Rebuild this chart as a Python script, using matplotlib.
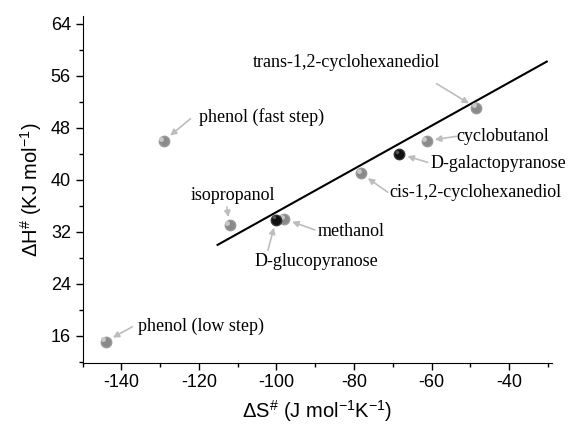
import numpy as np
import matplotlib.pyplot as plt
from matplotlib.ticker import MultipleLocator

plt.rcParams['axes.unicode_minus'] = False
plt.rcParams['mathtext.fontset'] = 'custom'
plt.rcParams['mathtext.rm'] = 'Liberation Sans'
plt.rcParams['mathtext.it'] = 'Liberation Sans'

# activation entropy / enthalpy for each compound
names = ['phenol (low step)', 'isopropanol', 'D-glucopyranose', 'methanol',
         'cis-1,2-cyclohexanediol', 'D-galactopyranose', 'cyclobutanol',
         'trans-1,2-cyclohexanediol', 'phenol (fast step)']
dS = [-144.1, -112.1, -100.1, -98.0, -78.2, -68.3, -61.3, -48.5, -129.1]
dH = [15.1, 33.0, 33.9, 34.0, 41.0, 44.0, 46.0, 51.1, 46.0]
sugar = [False, False, True, False, False, True, False, False, False]

# fitted compensation line
fit_x = [-115.2, -30.3]
fit_y = [30.0, 58.2]

# label text positions (data coords)
label_xy = {
    'phenol (low step)': (-135.7, 17.4),
    'isopropanol': (-111.3, 37.6),
    'D-glucopyranose': (-89.8, 27.5),
    'methanol': (-89.5, 32.0),
    'cis-1,2-cyclohexanediol': (-70.8, 38.0),
    'D-galactopyranose': (-60.3, 42.5),
    'cyclobutanol': (-53.6, 46.7),
    'trans-1,2-cyclohexanediol': (-81.9, 58.1),
    'phenol (fast step)': (-119.9, 49.6),
}
label_ha = {'isopropanol': 'center', 'D-glucopyranose': 'center',
            'trans-1,2-cyclohexanediol': 'center'}
arrow_start = {
    'phenol (low step)': (-137.2, 17.4),
    'isopropanol': (-112.8, 35.8),
    'D-glucopyranose': (-102.2, 29.2),
    'methanol': (-90.1, 32.3),
    'cis-1,2-cyclohexanediol': (-71.3, 38.1),
    'D-galactopyranose': (-61.0, 42.7),
    'cyclobutanol': (-53.6, 46.7),
    'trans-1,2-cyclohexanediol': (-58.7, 54.8),
    'phenol (fast step)': (-122.2, 49.4),
}

fig = plt.figure(figsize=(5.7, 4.24), dpi=100)
ax = fig.add_axes([0.145, 0.145, 0.823, 0.817])

ax.plot(fit_x, fit_y, color='black', lw=1.5, zorder=2)

for n, x, y, s in zip(names, dS, dH, sugar):
    if s:
        ax.plot(x, y, 'o', ms=7.5, color='#111111', mec='#333333', zorder=4)
        ax.plot(x - 0.6, y + 0.35, 'o', ms=2.5, color='#555555', mec='none', zorder=5)
    else:
        ax.plot(x, y, 'o', ms=7.5, color='#8a8a8a', mec='#9a9a9a', zorder=3)
        ax.plot(x - 0.6, y + 0.35, 'o', ms=3.5, color='#c8c8c8', mec='none', zorder=3)
    tx, ty = label_xy[n]
    ax.text(tx, ty, n, family='Liberation Serif', fontsize=13,
            ha=label_ha.get(n, 'left'), va='center', zorder=6)
    ax.annotate('', xy=(x, y), xytext=arrow_start[n],
                arrowprops=dict(arrowstyle='-|>', color='#bdbdbd', lw=1.2,
                                mutation_scale=9, shrinkB=6, shrinkA=0))

ax.set_xlim(-150, -29)
ax.set_ylim(11.9, 65.2)
ax.xaxis.set_minor_locator(MultipleLocator(10))
ax.yaxis.set_minor_locator(MultipleLocator(4))
ax.set_xticks(np.arange(-140, -39, 20))
ax.set_yticks(np.arange(16, 65, 8))

for sp in ['top', 'right']:
    ax.spines[sp].set_visible(False)
ax.tick_params(which='major', direction='out', length=5, width=1,
               labelsize=13, labelfontfamily='Liberation Sans')
ax.tick_params(which='minor', direction='out', length=3, width=1)

ax.set_xlabel(r'$\Delta$S$^{\#}$ (J mol$^{-1}$K$^{-1}$)', family='Liberation Sans',
              fontsize=14.5, labelpad=5)
ax.set_ylabel(r'$\Delta$H$^{\#}$ (KJ mol$^{-1}$)', family='Liberation Sans',
              fontsize=14.5, labelpad=5)

fig.savefig('out.png', dpi=100)
